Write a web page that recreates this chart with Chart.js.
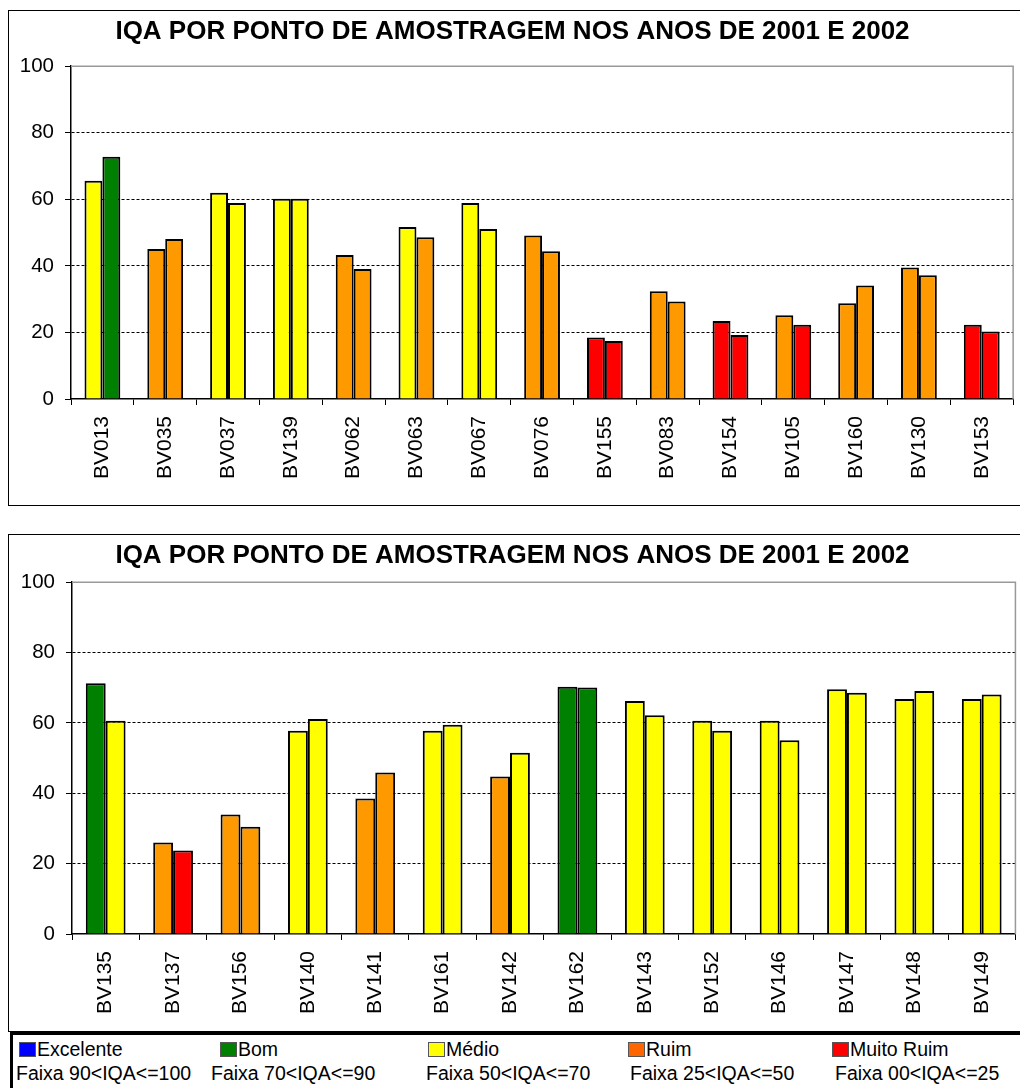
<!DOCTYPE html>
<html>
<head>
<meta charset="utf-8">
<script src="https://cdn.jsdelivr.net/npm/chart.js@4/dist/chart.umd.min.js"></script>
<style>
  body { margin: 0; background: #fff; font-family: "Liberation Sans", Arial, sans-serif; }
  .box { position: absolute; border: 1px solid #000; background: #fff; }
  #legend { position: absolute; left: 10px; top: 1032px; width: 1020px; height: 70px; border: 3px solid #000; }
  .leg { position: absolute; font-size: 19.5px; white-space: nowrap; color: #000; }
  .sq { display: inline-block; width: 15px; height: 13px; border: 1px solid #555; vertical-align: -1px; margin-right: 1px; }
</style>
</head>
<body>
<div class="box" style="left:8px;top:10px;width:1011px;height:494px;">
  <canvas id="chart1" width="1009" height="492"></canvas>
</div>
<div class="box" style="left:8px;top:534px;width:1011px;height:496px;">
  <canvas id="chart2" width="1009" height="494"></canvas>
</div>
<div id="legend"></div>
<script>
// primeiro grafico
const pontos1 = ["BV013", "BV035", "BV037", "BV139", "BV062", "BV063", "BV067", "BV076",
  "BV155", "BV083", "BV154", "BV105", "BV160", "BV130", "BV153"];
const iqa2001a = [65.6, 45.1, 62.0, 60.2, 43.3, 51.7, 58.9, 49.1, 18.5, 32.4, 23.4, 25.2, 28.8, 39.5, 22.3];
const iqa2002a = [72.8, 48.1, 58.9, 60.2, 39.1, 48.6, 51.1, 44.4, 17.4, 29.3, 19.2, 22.3, 34.1, 37.2, 20.3];
// faixa de cada barra: B = Bom, M = Medio, R = Ruim, MR = Muito Ruim
const faixa2001a = ["M", "R", "M", "M", "R", "M", "M", "R", "MR", "R", "MR", "R", "R", "R", "MR"];
const faixa2002a = ["B", "R", "M", "M", "R", "R", "M", "R", "MR", "R", "MR", "MR", "R", "R", "MR"];

// segundo grafico
const pontos2 = ["BV135", "BV137", "BV156", "BV140", "BV141", "BV161", "BV142", "BV162",
  "BV143", "BV152", "BV146", "BV147", "BV148", "BV149"];
const iqa2001b = [71.3, 26.0, 34.0, 57.8, 38.5, 57.8, 44.8, 70.3, 66.2, 60.6, 60.6, 69.6, 66.8, 66.8];
const iqa2002b = [60.6, 23.7, 30.5, 61.1, 45.9, 59.5, 51.5, 70.1, 62.2, 57.8, 55.1, 68.6, 69.1, 68.1];
const faixa2001b = ["B", "R", "R", "M", "R", "M", "R", "B", "M", "M", "M", "M", "M", "M"];
const faixa2002b = ["M", "MR", "R", "M", "R", "M", "M", "B", "M", "M", "M", "M", "M", "M"];

const yTicks = [0, 20, 40, 60, 80, 100];

const corBarra = { E: "#0000FF", B: "#008000", M: "#FFFF00", R: "#FF9900", MR: "#FF0000" };

const titulo = "IQA POR PONTO DE AMOSTRAGEM NOS ANOS DE 2001 E 2002";
const FONTE = "'Liberation Sans', Arial, sans-serif";

// borda cinza da area do grafico (topo e direita)
const bordaArea = {
  id: "bordaArea",
  afterDraw(chart) {
    const { ctx, chartArea: a } = chart;
    ctx.save();
    ctx.strokeStyle = "#999";
    ctx.lineWidth = 1.5;
    ctx.beginPath();
    ctx.moveTo(a.left, a.top);
    ctx.lineTo(a.right, a.top);
    ctx.lineTo(a.right, a.bottom);
    ctx.stroke();
    ctx.restore();
  }
};

function desenha(id, labels, v1, v2, f1, f2, cfg) {
  new Chart(document.getElementById(id), {
    type: "bar",
    data: {
      labels,
      datasets: [
        { label: "2001", data: v1, backgroundColor: f1.map(f => corBarra[f]),
          borderColor: "#000", borderWidth: 2, barPercentage: 1, categoryPercentage: cfg.cat },
        { label: "2002", data: v2, backgroundColor: f2.map(f => corBarra[f]),
          borderColor: "#000", borderWidth: 2, barPercentage: 1, categoryPercentage: cfg.cat }
      ]
    },
    options: {
      responsive: false,
      animation: false,
      layout: { padding: { left: 0, right: 2, top: 0, bottom: 0 } },
      plugins: {
        legend: { display: false },
        tooltip: { enabled: false },
        title: {
          display: true,
          text: titulo,
          color: "#000",
          font: { family: FONTE, size: 26, weight: "bold" },
          padding: { top: 5, bottom: cfg.titlePad }
        }
      },
      scales: {
        x: {
          grid: { offset: true, drawOnChartArea: false, tickLength: 6, tickColor: "#000" },
          border: { color: "#000", width: 1.5 },
          ticks: {
            color: "#000", minRotation: 90, maxRotation: 90, padding: 11,
            font: { family: FONTE, size: 21 }
          },
          afterFit: s => { s.height = cfg.xh; }
        },
        y: {
          min: 0, max: 100,
          afterBuildTicks: s => { s.ticks = yTicks.map(v => ({ value: v })); },
          grid: {
            color: c => (c.tick && c.tick.value > 0 && c.tick.value < 100) ? "#000" : "rgba(0,0,0,0)",
            lineWidth: 1, tickLength: 6, tickColor: "#000"
          },
          border: { color: "#000", width: 1.5, dash: [3, 2] },
          ticks: { color: "#000", padding: 11, font: { family: FONTE, size: 20.5 } },
          afterFit: s => { s.width = cfg.yw; }
        }
      }
    },
    plugins: [bordaArea]
  });
}

desenha("chart1", pontos1, iqa2001a, iqa2002a, faixa2001a, faixa2002a, { cat: 0.57, xh: 104, yw: 62, titlePad: 19 });
desenha("chart2", pontos2, iqa2001b, iqa2002b, faixa2001b, faixa2002b, { cat: 0.59, xh: 95, yw: 63, titlePad: 11 });

// legenda das faixas
const legNomes = ["Excelente", "Bom", "Médio", "Ruim", "Muito Ruim"];
const legFaixas = ["Faixa 90<IQA<=100", "Faixa 70<IQA<=90", "Faixa 50<IQA<=70", "Faixa 25<IQA<=50", "Faixa 00<IQA<=25"];
const legCores = ["#0000FF", "#008000", "#FFFF00", "#FF6600", "#FF0000"];
const legX = [3, 198, 413, 617, 822];
const legSqX = [6, 207, 415, 615, 819];

const leg = document.getElementById("legend");
legNomes.forEach((nome, i) => {
  const a = document.createElement("div");
  a.className = "leg";
  a.style.left = legSqX[i] + "px";
  a.style.top = "3px";
  a.innerHTML = '<span class="sq" style="background:' + legCores[i] + '"></span>' + nome;
  leg.appendChild(a);
  const b = document.createElement("div");
  b.className = "leg";
  b.style.left = legX[i] + "px";
  b.style.top = "27px";
  b.textContent = legFaixas[i];
  leg.appendChild(b);
});
</script>
</body>
</html>
